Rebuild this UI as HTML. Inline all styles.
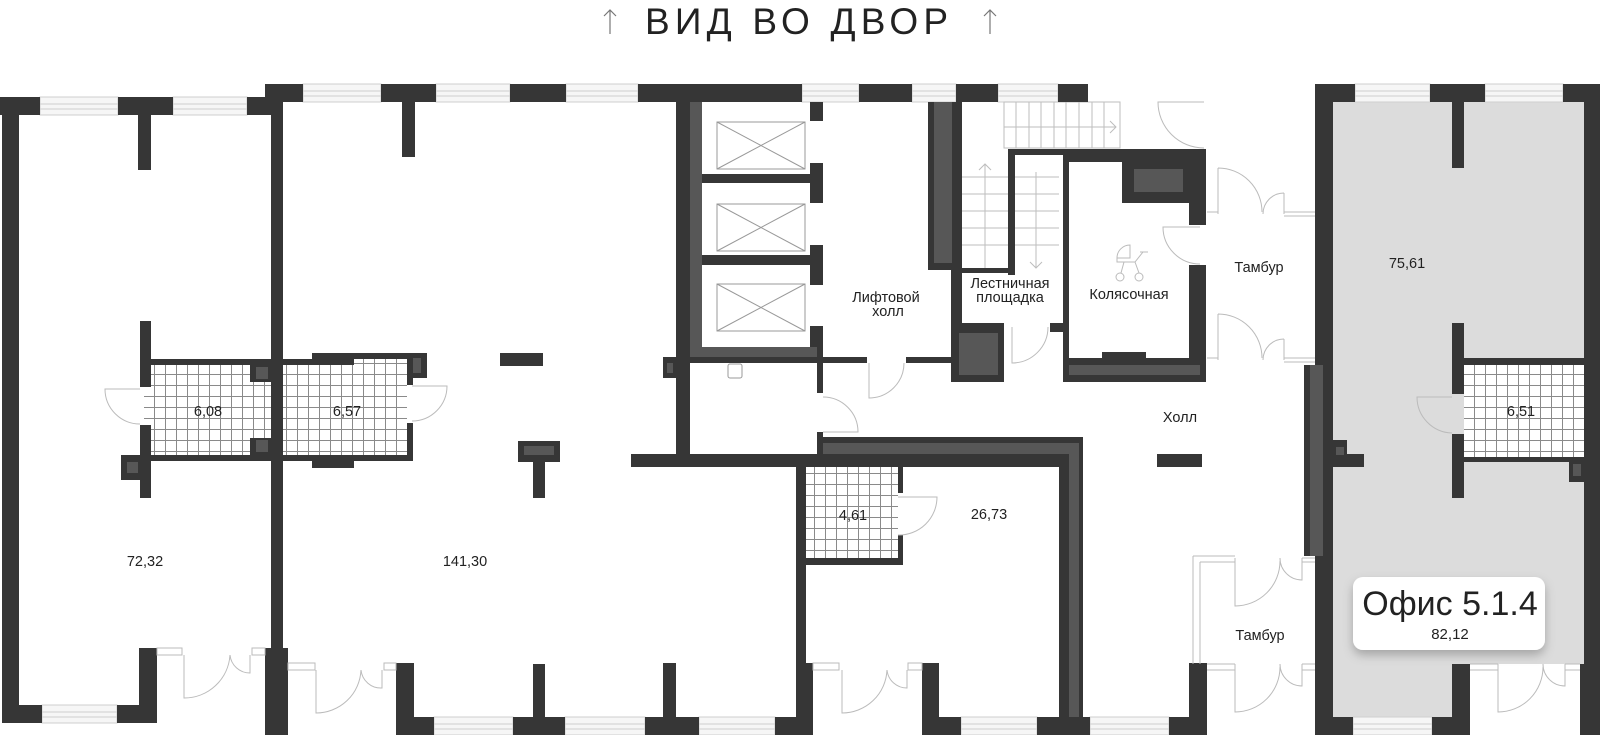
<!DOCTYPE html>
<html><head><meta charset="utf-8"><style>
html,body{margin:0;padding:0;background:#fff;}
svg{display:block;}
text{font-family:"Liberation Sans",sans-serif;fill:#222;}
</style></head><body>
<svg width="1600" height="735" viewBox="0 0 1600 735" xmlns="http://www.w3.org/2000/svg">
<defs>
<pattern id="tile" width="11" height="11" patternUnits="userSpaceOnUse">
<rect width="11" height="11" fill="#fff"/>
<path d="M0 0.5H11M0.5 0V11" stroke="#8a8a8a" stroke-width="1"/>
</pattern>
<filter id="sh" x="-20%" y="-30%" width="140%" height="170%">
<feDropShadow dx="0" dy="5" stdDeviation="5" flood-color="#000" flood-opacity="0.25"/>
</filter>
</defs>

<text x="645" y="34" font-size="37" textLength="303" lengthAdjust="spacing" fill="#2a2a2a">ВИД ВО ДВОР</text>
<g stroke="#777" stroke-width="1.2" fill="none">
<path d="M610 34V10M604 16L610 10L616 16"/>
<path d="M990 34V10M984 16L990 10L996 16"/>
</g>

<rect x="1333" y="102" width="251" height="615" fill="#dcdcdc"/>
<rect x="1470" y="664" width="110" height="53" fill="#fff"/>

<rect x="144" y="365" width="127" height="90" fill="url(#tile)"/>
<rect x="283" y="359" width="124" height="96" fill="url(#tile)"/>
<rect x="806" y="467" width="92" height="91" fill="url(#tile)"/>
<rect x="1464" y="365" width="120" height="92" fill="url(#tile)"/>

<g fill="#f6f6f6" stroke="#cfcfcf" stroke-width="1">
<rect x="40" y="97" width="78" height="18"/><rect x="173" y="97" width="74" height="18"/>
<rect x="303" y="84" width="78" height="18"/><rect x="436" y="84" width="74" height="18"/>
<rect x="566" y="84" width="72" height="18"/><rect x="802" y="84" width="57" height="18"/>
<rect x="912" y="84" width="44" height="18"/><rect x="998" y="84" width="60" height="18"/>
<rect x="1355" y="84" width="75" height="18"/><rect x="1485" y="84" width="78" height="18"/>
<rect x="42" y="705" width="75" height="18"/>
<rect x="434" y="717" width="79" height="18"/><rect x="565" y="717" width="80" height="18"/>
<rect x="699" y="717" width="76" height="18"/><rect x="961" y="717" width="76" height="18"/>
<rect x="1090" y="717" width="79" height="18"/><rect x="1353" y="717" width="79" height="18"/>
</g>
<g stroke="#cfcfcf" stroke-width="1">
<path d="M40 104H118M40 109H118M173 104H247M173 109H247"/>
<path d="M303 91H381M303 96H381M436 91H510M436 96H510M566 91H638M566 96H638M802 91H859M802 96H859M912 91H956M912 96H956M998 91H1058M998 96H1058M1355 91H1430M1355 96H1430M1485 91H1563M1485 96H1563"/>
<path d="M42 712H117M42 717H117M434 724H513M434 729H513M565 724H645M565 729H645M699 724H775M699 729H775M961 724H1037M961 729H1037M1090 724H1169M1090 729H1169M1353 724H1432M1353 729H1432"/>
</g>

<g stroke="#bdbdbd" stroke-width="1" fill="none">
<rect x="1004" y="102" width="116" height="46"/>
<path d="M1016 102V148M1029 102V148M1041 102V148M1054 102V148M1066 102V148M1079 102V148M1092 102V148M1104 102V148M1004 127H1116M1110 121L1116 127L1110 133"/>
<path d="M962 177H1008M962 194H1008M962 211H1008M962 228H1008M962 245H1008M985 272V164M979 170L985 164L991 170"/>
<path d="M1015 177H1059M1015 194H1059M1015 211H1059M1015 228H1059M1015 245H1059M1036 172V268M1030 262L1036 268L1042 262"/>
</g>

<g stroke="#999" stroke-width="1" fill="none">
<rect x="717" y="122" width="88" height="47"/><path d="M717 122L805 169M805 122L717 169"/>
<rect x="717" y="204" width="88" height="47"/><path d="M717 204L805 251M805 204L717 251"/>
<rect x="717" y="284" width="88" height="47"/><path d="M717 284L805 331M805 284L717 331"/>
<rect x="728" y="364" width="14" height="14" rx="2"/>
</g>

<g fill="#363636">
<rect x="2" y="97" width="17" height="626"/><rect x="0" y="97" width="40" height="18"/>
<rect x="118" y="97" width="55" height="18"/><rect x="247" y="97" width="36" height="18"/>
<rect x="138" y="115" width="13" height="55"/><rect x="2" y="705" width="40" height="18"/>
<rect x="117" y="705" width="40" height="18"/><rect x="139" y="648" width="18" height="75"/>
<rect x="271" y="84" width="12" height="564"/><rect x="265" y="648" width="23" height="87"/>
<rect x="265" y="84" width="38" height="18"/><rect x="381" y="84" width="55" height="18"/>
<rect x="510" y="84" width="56" height="18"/><rect x="638" y="84" width="164" height="18"/>
<rect x="859" y="84" width="53" height="18"/><rect x="956" y="84" width="42" height="18"/>
<rect x="1058" y="84" width="30" height="18"/><rect x="402" y="102" width="13" height="55"/>
<rect x="140" y="321" width="11" height="66"/><rect x="140" y="425" width="11" height="73"/>
<rect x="151" y="359" width="120" height="6"/><rect x="121" y="455" width="291" height="6"/>
<rect x="121" y="455" width="30" height="25"/><rect x="250" y="365" width="21" height="17"/>
<rect x="250" y="438" width="21" height="17"/>
<rect x="283" y="359" width="29" height="6"/><rect x="312" y="353" width="115" height="6"/>
<rect x="312" y="353" width="42" height="12"/><rect x="407" y="353" width="20" height="25"/>
<rect x="407" y="378" width="6" height="7"/><rect x="407" y="423" width="6" height="38"/>
<rect x="312" y="455" width="42" height="13"/>
<rect x="500" y="353" width="43" height="13"/>
<rect x="518" y="441" width="42" height="21"/><rect x="533" y="462" width="12" height="36"/>
<rect x="396" y="663" width="18" height="72"/><rect x="396" y="717" width="38" height="18"/>
<rect x="513" y="717" width="52" height="18"/><rect x="533" y="664" width="12" height="53"/>
<rect x="645" y="717" width="54" height="18"/><rect x="663" y="663" width="13" height="54"/>
<rect x="676" y="102" width="14" height="352"/><rect x="631" y="454" width="452" height="13"/>
<rect x="818" y="437" width="265" height="30"/><rect x="818" y="432" width="5" height="5"/>
<rect x="1059" y="437" width="24" height="280"/>
<rect x="796" y="467" width="10" height="250"/><rect x="775" y="717" width="38" height="18"/>
<rect x="796" y="663" width="17" height="54"/>
<rect x="898" y="467" width="5" height="26"/><rect x="898" y="535" width="5" height="30"/>
<rect x="806" y="558" width="97" height="7"/>
<rect x="922" y="663" width="17" height="72"/><rect x="922" y="717" width="39" height="18"/>
<rect x="1037" y="717" width="53" height="18"/>
<rect x="1169" y="717" width="38" height="18"/><rect x="1189" y="663" width="18" height="72"/>
<rect x="663" y="357" width="204" height="6"/><rect x="906" y="357" width="45" height="6"/>
<rect x="702" y="174" width="119" height="9"/><rect x="702" y="255" width="119" height="10"/>
<rect x="810" y="102" width="13" height="19"/><rect x="810" y="163" width="13" height="40"/>
<rect x="810" y="245" width="13" height="40"/><rect x="810" y="326" width="13" height="31"/>
<rect x="817" y="363" width="6" height="30"/><rect x="817" y="432" width="6" height="22"/>
<rect x="663" y="357" width="13" height="21"/>
<rect x="928" y="102" width="34" height="168"/><rect x="1008" y="149" width="7" height="126"/>
<rect x="1008" y="149" width="198" height="6"/><rect x="1063" y="155" width="143" height="7"/>
<rect x="1063" y="155" width="6" height="227"/><rect x="1122" y="162" width="67" height="41"/>
<rect x="1189" y="149" width="17" height="76"/><rect x="1189" y="265" width="17" height="117"/>
<rect x="1063" y="358" width="143" height="24"/><rect x="1102" y="352" width="44" height="6"/>
<rect x="951" y="323" width="53" height="59"/><rect x="1050" y="323" width="13" height="9"/>
<rect x="951" y="263" width="11" height="60"/><rect x="962" y="268" width="53" height="5"/>
<rect x="1315" y="84" width="18" height="651"/><rect x="1315" y="84" width="40" height="18"/>
<rect x="1430" y="84" width="55" height="18"/><rect x="1563" y="84" width="37" height="18"/>
<rect x="1584" y="84" width="16" height="651"/><rect x="1452" y="102" width="12" height="66"/>
<rect x="1452" y="323" width="12" height="71"/><rect x="1452" y="434" width="12" height="64"/>
<rect x="1464" y="358" width="120" height="7"/><rect x="1464" y="457" width="120" height="5"/>
<rect x="1569" y="457" width="15" height="25"/>
<rect x="1304" y="365" width="19" height="191"/>
<rect x="1333" y="440" width="14" height="27"/><rect x="1333" y="454" width="31" height="13"/>
<rect x="1315" y="717" width="38" height="18"/><rect x="1432" y="717" width="38" height="18"/>
<rect x="1452" y="664" width="18" height="53"/><rect x="1580" y="664" width="20" height="71"/>
<rect x="1157" y="454" width="45" height="13"/>
</g>
<g fill="#575757">
<rect x="127" y="462" width="11" height="11"/><rect x="256" y="367" width="12" height="12"/>
<rect x="256" y="440" width="12" height="12"/><rect x="413" y="358" width="8" height="15"/>
<rect x="524" y="446" width="30" height="9"/>
<rect x="823" y="443" width="256" height="11"/><rect x="1069" y="443" width="10" height="274"/>
<rect x="690" y="102" width="12" height="255"/><rect x="690" y="347" width="127" height="10"/>
<rect x="667" y="363" width="6" height="10"/>
<rect x="934" y="102" width="18" height="161"/><rect x="1134" y="169" width="49" height="23"/>
<rect x="1069" y="365" width="131" height="10"/><rect x="959" y="333" width="39" height="42"/>
<rect x="1573" y="464" width="8" height="12"/><rect x="1310" y="365" width="13" height="191"/>
<rect x="1336" y="447" width="8" height="8"/>
</g>

<g fill="none" stroke="#bbb" stroke-width="1">
<path d="M140 389H105A35 35 0 0 0 140 424"/>
<path d="M412 386H447A35 35 0 0 1 412 421"/>
<path d="M1452 397H1417A36 36 0 0 0 1452 433"/>
<path d="M898 497H937A38 38 0 0 1 898 535"/>
<path d="M869 363V398A35 35 0 0 0 904 363"/>
<path d="M823 432H858A35 35 0 0 0 823 397"/>
<path d="M1012 327V363A36 36 0 0 0 1048 327"/>
<path d="M1204 102H1158A46 46 0 0 0 1204 148"/>
<path d="M1200 227H1163A37 37 0 0 0 1200 264"/>
<rect x="157" y="648" width="25" height="7"/><rect x="252" y="648" width="13" height="7"/>
<path d="M184 655V698A46 46 0 0 0 230 655"/><path d="M250 655V673A20 20 0 0 1 230 655"/>
<rect x="288" y="663" width="27" height="7"/><rect x="384" y="663" width="12" height="7"/>
<path d="M316 670V713A45 45 0 0 0 361 670"/><path d="M382 670V688A20 20 0 0 1 361 670"/>
<rect x="813" y="663" width="26" height="7"/><rect x="908" y="663" width="14" height="7"/>
<path d="M842 670V713A45 45 0 0 0 887 670"/><path d="M907 670V688A20 20 0 0 1 887 670"/>
<path d="M1207 212H1218M1218 168V214M1218 168A44 44 0 0 1 1262 212M1284 193V214M1284 193A21 21 0 0 0 1263 214M1284 212H1315M1284 216H1315"/>
<path d="M1207 358H1218M1218 314V360M1218 314A44 44 0 0 1 1262 358M1284 339V360M1284 339A21 21 0 0 0 1263 360M1284 358H1315M1284 362H1315"/>
<path d="M1193 556V664M1200 562V664M1193 556H1235M1200 562H1235M1235 558V606A45 45 0 0 0 1280 561M1302 558V580A22 22 0 0 1 1280 558M1302 558H1315M1302 562H1315"/>
<path d="M1207 664H1235M1207 670H1235M1235 664V712A45 45 0 0 0 1280 667M1302 664V686A22 22 0 0 1 1280 664M1302 664H1315M1302 670H1315"/>
<path d="M1470 664H1498M1470 670H1498M1498 664V712A45 45 0 0 0 1543 667M1565 664V686A22 22 0 0 1 1543 664M1565 664H1580M1565 670H1580"/>
</g>

<g fill="none" stroke="#bbb" stroke-width="1">
<path d="M1117 258A13 13 0 0 1 1130 245V258H1117Z"/>
<path d="M1117 258V262H1135L1143 252M1140 252L1148 252"/>
<path d="M1124 262L1121 273M1135 262L1139 273"/>
<circle cx="1120" cy="277" r="4"/><circle cx="1139" cy="277" r="4"/>
</g>

<g font-size="14.5" text-anchor="middle">
<text x="208" y="416">6,08</text>
<text x="347" y="416">6,57</text>
<text x="145" y="566">72,32</text>
<text x="465" y="566">141,30</text>
<text x="853" y="520">4,61</text>
<text x="989" y="519">26,73</text>
<text x="1407" y="268">75,61</text>
<text x="1521" y="416">6,51</text>
<text x="886" y="302">Лифтовой</text>
<text x="888" y="316">холл</text>
<text x="1010" y="288">Лестничная</text>
<text x="1010" y="302">площадка</text>
<text x="1129" y="299">Колясочная</text>
<text x="1259" y="272">Тамбур</text>
<text x="1180" y="422">Холл</text>
<text x="1260" y="640">Тамбур</text>
</g>

<rect x="1353" y="577" width="192" height="73" rx="10" fill="#fff" filter="url(#sh)"/>
<text x="1450" y="615" font-size="34" text-anchor="middle" fill="#111">Офис 5.1.4</text>
<text x="1450" y="639" font-size="15" text-anchor="middle">82,12</text>
</svg>
</body></html>
